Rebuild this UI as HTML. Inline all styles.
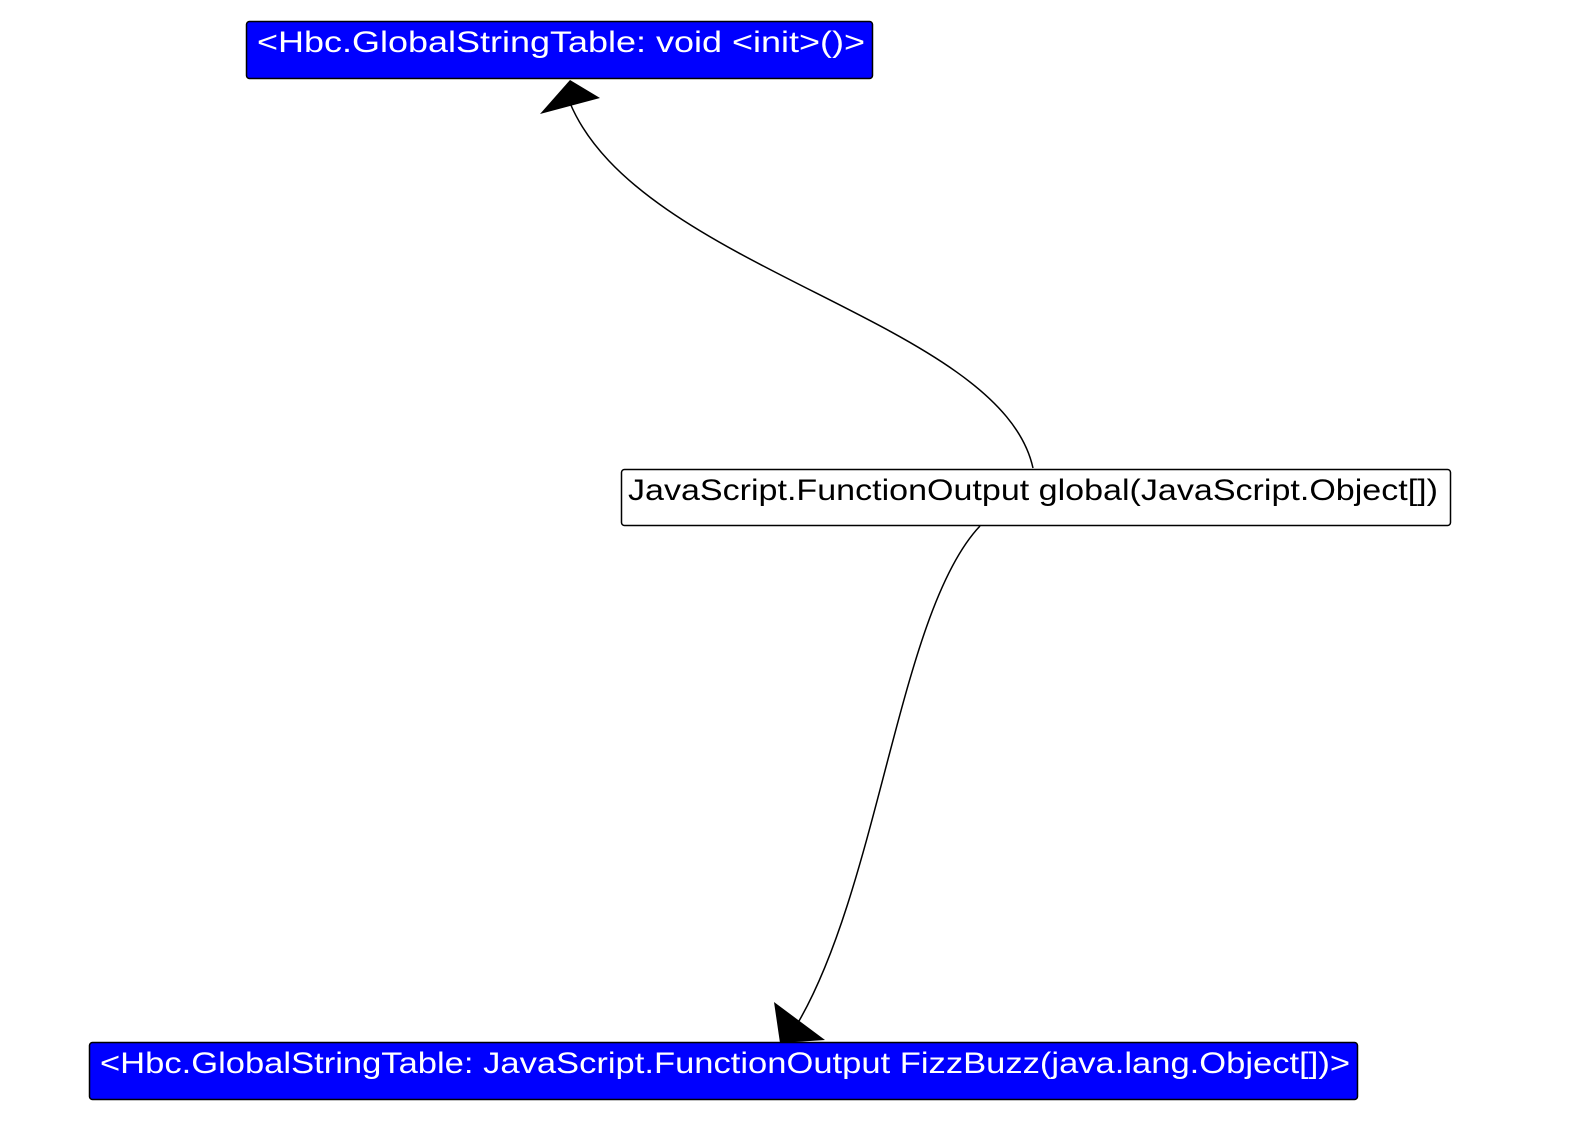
<!DOCTYPE html>
<html><head><meta charset="utf-8"><style>
html,body{margin:0;padding:0;background:#fff;width:1572px;height:1124px;overflow:hidden}
text{font-family:"Liberation Sans",sans-serif;font-size:30px}
</style></head><body>
<svg width="1572" height="1124" viewBox="0 0 1572 1124" xmlns="http://www.w3.org/2000/svg">
<rect x="246.5" y="21.5" width="626" height="57" rx="3" fill="#0000ff" stroke="#000" stroke-width="1.5"/>
<text x="257" y="52" fill="#fff" textLength="608" lengthAdjust="spacingAndGlyphs">&lt;Hbc.GlobalStringTable: void &lt;init&gt;()&gt;</text>
<rect x="621.5" y="469.5" width="829" height="56" rx="3" fill="#fff" stroke="#000" stroke-width="1.5"/>
<text x="628" y="500" fill="#000" textLength="810" lengthAdjust="spacingAndGlyphs">JavaScript.FunctionOutput global(JavaScript.Object[])</text>
<rect x="89.5" y="1042.5" width="1268" height="57" rx="3" fill="#0000ff" stroke="#000" stroke-width="1.5"/>
<text x="100" y="1073" fill="#fff" textLength="1250" lengthAdjust="spacingAndGlyphs">&lt;Hbc.GlobalStringTable: JavaScript.FunctionOutput FizzBuzz(java.lang.Object[])&gt;</text>
<path d="M1033,468 C1000,320 640,270 570,103" fill="none" stroke="#000" stroke-width="1.5"/>
<polygon points="540,114 570,80 600,98" fill="#000"/>
<path d="M980,526 C900,610 880,880 799,1021" fill="none" stroke="#000" stroke-width="1.5"/>
<polygon points="774,1002 780,1043 825,1040" fill="#000"/>
</svg>
</body></html>
